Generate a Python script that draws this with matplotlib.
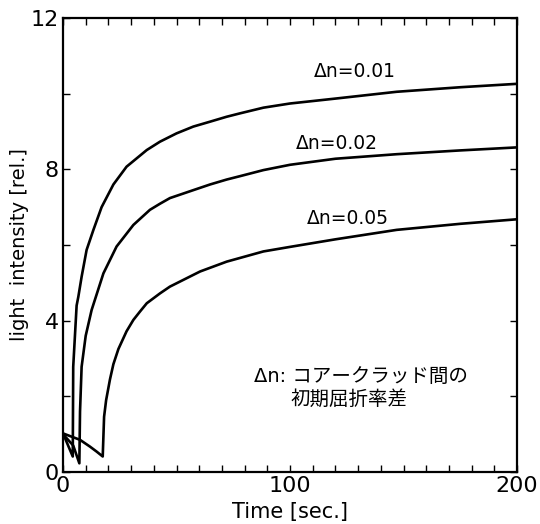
import matplotlib
matplotlib.use("Agg")
import matplotlib.pyplot as plt
from matplotlib.ticker import MultipleLocator, FixedFormatter, FixedLocator

# ---- data ----
t_001 = [0, 4.3, 4.5, 6.0, 6.75, 8.2, 10.4, 13.4, 17, 22.2, 28, 36.9, 42.7, 50, 57.4, 64.8, 72.1, 78, 88.3, 100, 120, 147, 175, 200]
y_001 = [1.02, 0.41, 2.78, 4.4, 4.63, 5.16, 5.87, 6.4, 7.0, 7.6, 8.07, 8.51, 8.73, 8.95, 9.13, 9.26, 9.39, 9.48, 9.63, 9.74, 9.87, 10.05, 10.17, 10.26]

t_002 = [0, 4.5, 7.2, 7.5, 8.2, 10, 12.6, 17.8, 23.6, 31, 38.3, 42.7, 47.1, 57.4, 64.8, 72.1, 78, 88.3, 100, 120, 147, 175, 200]
y_002 = [1.0, 0.7, 0.23, 1.6, 2.78, 3.6, 4.28, 5.25, 5.96, 6.53, 6.93, 7.09, 7.24, 7.45, 7.6, 7.73, 7.82, 7.98, 8.12, 8.28, 8.4, 8.5, 8.58]

t_005 = [0, 7.5, 11.9, 14.8, 17.5, 18.1, 19, 20.7, 22.2, 24.4, 28, 31, 33.9, 36.9, 42.7, 47.1, 57.4, 60.4, 72.1, 88.3, 100, 120, 147, 175, 200]
y_005 = [1.02, 0.85, 0.67, 0.54, 0.41, 1.46, 1.9, 2.45, 2.85, 3.25, 3.72, 4.02, 4.24, 4.46, 4.72, 4.90, 5.21, 5.30, 5.56, 5.83, 5.95, 6.15, 6.40, 6.56, 6.68]

series_labels = ["Δn=0.01", "Δn=0.02", "Δn=0.05"]
label_pos = [(128.6, 10.58), (120.5, 8.69), (125.3, 6.71)]

x_ticklabels = ["0", "100", "200"]
y_ticklabels = ["0", "4", "8", "12"]

note_lines = ["Δn: コアークラッド間の", "初期屈折率差"]

# ---- figure ----
fig = plt.figure(figsize=(5.4, 5.24), dpi=100)
ax = fig.add_axes([63/540, 1-472/524, (517-63)/540, (472-18)/524])

for t, y in [(t_001, y_001), (t_002, y_002), (t_005, y_005)]:
    ax.plot(t, y, color="black", lw=1.9, solid_joinstyle="round", solid_capstyle="round")

for lab, (lx, ly) in zip(series_labels, label_pos):
    ax.text(lx, ly, lab, ha="center", va="center", fontsize=13.5,
            family="DejaVu Sans")

ax.text(131.3, 2.52, note_lines[0], ha="center", va="center", fontsize=14,
        family=["DejaVu Sans", "Noto Sans CJK JP"])
ax.text(125.8, 1.93, note_lines[1], ha="center", va="center", fontsize=14,
        family=["Noto Sans CJK JP", "DejaVu Sans"])

ax.set_xlim(0, 200)
ax.set_ylim(0, 12)

ax.xaxis.set_major_locator(FixedLocator([0, 100, 200]))
ax.xaxis.set_major_formatter(FixedFormatter(x_ticklabels))
ax.xaxis.set_minor_locator(MultipleLocator(10))
ax.yaxis.set_major_locator(FixedLocator([0, 4, 8, 12]))
ax.yaxis.set_major_formatter(FixedFormatter(y_ticklabels))
ax.yaxis.set_minor_locator(MultipleLocator(2))

ax.tick_params(which="both", direction="in", top=True, right=True,
               length=5, width=1, color="black")
ax.tick_params(which="major", labelsize=16, pad=3)

for s in ax.spines.values():
    s.set_linewidth(1.6)

ax.set_xlabel("Time [sec.]", fontsize=15, labelpad=4)
ax.set_ylabel("light  intensity [rel.]", fontsize=14, labelpad=1)

fig.savefig("out.png", dpi=100)
